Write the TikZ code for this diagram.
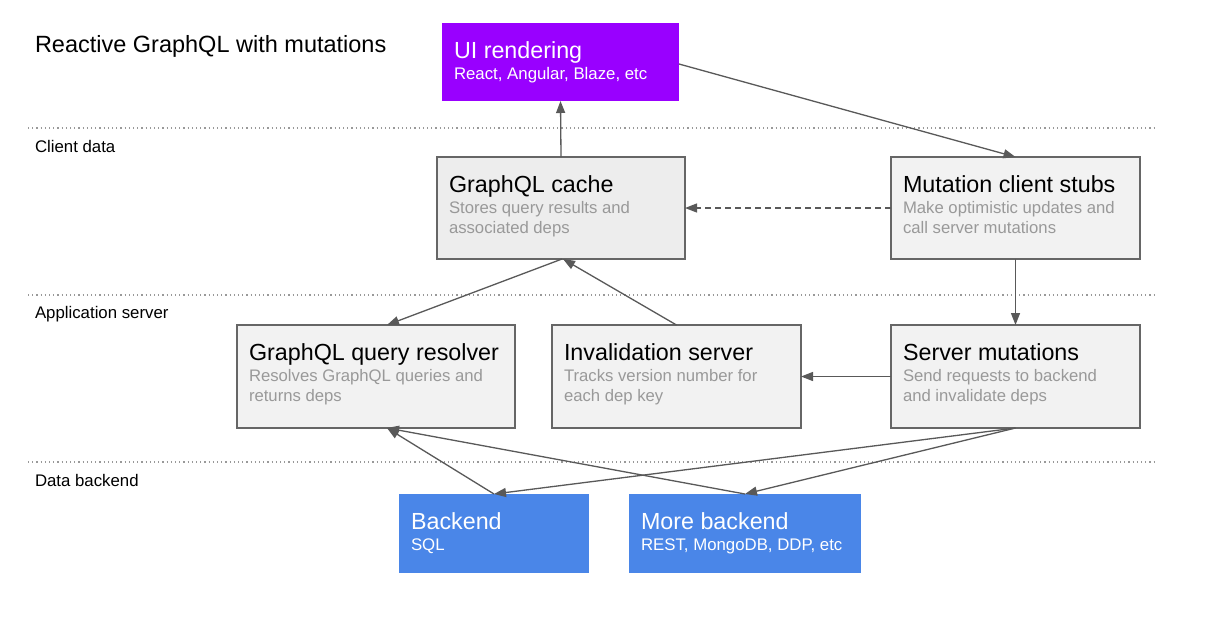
\documentclass[tikz,border=0pt]{standalone}
\usepackage{fontspec}
\setmainfont{Liberation Sans}
\usetikzlibrary{arrows.meta,calc}
\definecolor{purp}{HTML}{9900FF}
\definecolor{blu}{HTML}{4A86E8}
\definecolor{boxline}{HTML}{666666}
\definecolor{subgray}{HTML}{999999}
\definecolor{arr}{HTML}{595959}
\definecolor{dotc}{HTML}{999999}
\tikzset{
  base/.style={inner sep=0pt, outer sep=0pt},
  gbox/.style={base, draw=boxline, line width=1.2pt, fill=black!5},
  cbox/.style={base, draw=boxline, line width=1.2pt, fill=black!7},
  pbox/.style={base, fill=purp},
  bbox/.style={base, fill=blu},
  gttl/.style={base, text=black, font=\fontsize{23.3}{27}\selectfont},
  cttl/.style={gttl},
  pttl/.style={base, text=white, font=\fontsize{23.3}{27}\selectfont},
  bttl/.style={pttl},
  gsub/.style={base, text=subgray, font=\fontsize{16.7}{20}\selectfont},
  csub/.style={gsub},
  psub/.style={base, text=white, font=\fontsize{16.8}{20}\selectfont},
  bsub/.style={psub},
  lbl/.style={base, text=black, font=\fontsize{16.8}{20}\selectfont, anchor=base west},
  arrow/.style={draw=arr, line width=1.3pt, -{Triangle[length=12pt,width=9pt]}},
  sep/.style={draw=dotc, line width=1.2pt, dash pattern=on 1.2pt off 3pt},
}
\newcommand\mybox[9]{%
  \node[#6box, anchor=north west, minimum width={#4-#2}, minimum height={#5-#3}] (#1) at (#2,#3) {};
  \node[#6ttl, anchor=base west] (#1t) at ($(#1.north west)+(12,35)$) {#7};
  \node[#6sub, anchor=base west] (#1s) at ($(#1.north west)+(12,56.5)$) {#8};
  \node[#6sub, anchor=base west] (#1r) at ($(#1.north west)+(12,76.5)$) {#9};
}
\begin{document}
\begin{tikzpicture}[x=1pt,y=-1pt]
\useasboundingbox[fill=white] (0,0) rectangle (1214,622);
% separators
\draw[sep] (28,128) -- (1157,128);
\draw[sep] (28,295) -- (1157,295);
\draw[sep] (28,462) -- (1157,462);
% labels
\node[base, anchor=base west, font=\fontsize{23.5}{27}\selectfont] (title) at (35,52) {Reactive GraphQL with mutations};
\node[lbl] (lclient) at (35,152) {Client data};
\node[lbl] (lapp) at (35,318) {Application server};
\node[lbl] (ldata) at (35,486) {Data backend};
% boxes
\mybox{ui}{442}{23}{679}{101}{p}{UI rendering}{React, Angular, Blaze, etc}{}
\mybox{cache}{437}{157}{685}{259}{c}{GraphQL cache}{Stores query results and}{associated deps}
\mybox{stubs}{891}{157}{1140}{259}{g}{Mutation client stubs}{Make optimistic updates and}{call server mutations}
\mybox{resolver}{237}{325}{515}{428}{g}{GraphQL query resolver}{Resolves GraphQL queries and}{returns deps}
\mybox{inval}{552}{325}{801}{428}{g}{Invalidation server}{Tracks version number for}{each dep key}
\mybox{smut}{891}{325}{1140}{428}{g}{Server mutations}{Send requests to backend}{and invalidate deps}
\mybox{backend}{399}{494}{589}{573}{b}{Backend}{SQL}{}
\mybox{more}{629}{494}{861}{573}{b}{More backend}{REST, MongoDB, DDP, etc}{}
% connectors
\draw[arrow] (cache.north) -- (ui.south);
\draw[arrow] ($(ui.east)+(0,2)$) -- (stubs.north);
\draw[arrow, dash pattern=on 6pt off 4pt] (stubs.west) -- (cache.east);
\draw[arrow] ($(cache.south)+(1,0)$) -- ($(resolver.north)+(11,0)$);
\draw[arrow] (inval.north) -- ($(cache.south)+(2,0)$);
\draw[arrow] (stubs.south) -- (smut.north);
\draw[arrow] (smut.west) -- (inval.east);
\draw[arrow] (smut.south) -- (backend.north);
\draw[arrow] (smut.south) -- (more.north);
\draw[arrow] (backend.north) -- ($(resolver.south)+(11,0)$);
\draw[arrow] (more.north) -- ($(resolver.south)+(11,0)$);
\end{tikzpicture}
\end{document}
